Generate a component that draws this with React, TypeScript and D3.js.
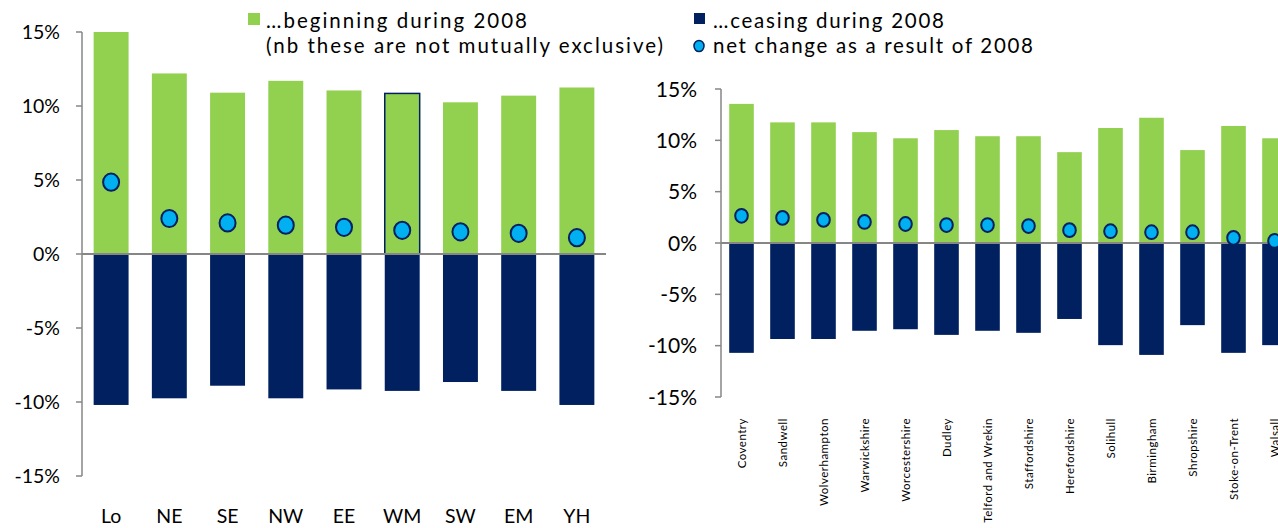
import * as d3 from 'd3';

// Left panel: regions
const regions = ['Lo', 'NE', 'SE', 'NW', 'EE', 'WM', 'SW', 'EM', 'YH'];
const regionBegin = [15.0, 12.2, 10.9, 11.7, 11.05, 10.85, 10.25, 10.7, 11.25];
const regionCease = [-10.2, -9.75, -8.9, -9.75, -9.15, -9.25, -8.65, -9.25, -10.2];
const regionNet = [4.85, 2.4, 2.1, 1.95, 1.8, 1.6, 1.5, 1.4, 1.1];

// Right panel: West Midlands local authorities
const areas = [
  'Coventry', 'Sandwell', 'Wolverhampton', 'Warwickshire', 'Worcestershire', 'Dudley',
  'Telford and Wrekin', 'Staffordshire', 'Herefordshire', 'Solihull', 'Birmingham',
  'Shropshire', 'Stoke-on-Trent', 'Walsall',
];
const areaBegin = [13.55, 11.75, 11.75, 10.8, 10.2, 11.0, 10.4, 10.4, 8.85, 11.2, 12.2, 9.05, 11.4, 10.2];
const areaCease = [-10.7, -9.35, -9.35, -8.55, -8.4, -8.95, -8.55, -8.75, -7.4, -9.95, -10.9, -8.0, -10.7, -9.95];
const areaNet = [2.65, 2.45, 2.25, 2.05, 1.85, 1.75, 1.75, 1.65, 1.25, 1.15, 1.05, 1.05, 0.5, 0.2];

const yTicks = [-15, -10, -5, 0, 5, 10, 15];

const GREEN = '#92d050';
const NAVY = '#002060';
const CYAN = '#00b0f0';
const AXIS = '#868686';
const FONT = 'Lato, "Open Sans", sans-serif';

interface PanelProps {
  cats: string[];
  begin: number[];
  cease: number[];
  net: number[];
  x0: number;
  x1: number;
  yTop: number;
  yBottom: number;
  lineEnd: number;
  tickFont: number;
  labelGap: number;
  r: number;
  rotated: boolean;
  highlight?: string;
}

function Panel(p: PanelProps) {
  const x = d3.scaleBand<string>().domain(p.cats).range([p.x0, p.x1]).paddingInner(0.4).paddingOuter(0.2);
  const y = d3.scaleLinear().domain([-15, 15]).range([p.yBottom, p.yTop]);
  const bw = x.bandwidth();
  return (
    <g>
      {p.cats.map((c, i) => (
        <g key={c}>
          <rect x={x(c)} y={y(p.begin[i])} width={bw} height={y(0) - y(p.begin[i])} fill={GREEN}
            stroke={c === p.highlight ? NAVY : 'none'} strokeWidth={1.5} />
          <rect x={x(c)} y={y(0)} width={bw} height={y(p.cease[i]) - y(0)} fill={NAVY} />
        </g>
      ))}
      <line x1={p.x0} x2={p.lineEnd} y1={y(0)} y2={y(0)} stroke={AXIS} strokeWidth={2} />
      <line x1={p.x0} x2={p.x0} y1={y(15)} y2={y(-15)} stroke={AXIS} strokeWidth={1.5} />
      {yTicks.map(t => (
        <g key={t}>
          <line x1={p.x0 - 6} x2={p.x0} y1={y(t)} y2={y(t)} stroke={AXIS} strokeWidth={1.5} />
          <text x={p.x0 - p.labelGap} y={y(t)} dy="0.36em" textAnchor="end" fontSize={p.tickFont} fill="#000">
            {`${t}%`}
          </text>
        </g>
      ))}
      {p.cats.map((c, i) => (
        <ellipse key={c} cx={(x(c) as number) + bw / 2} cy={y(p.net[i])} rx={p.r} ry={p.r + 0.6}
          fill={CYAN} stroke={NAVY} strokeWidth={2} />
      ))}
      {p.cats.map(c => {
        const cx = (x(c) as number) + bw / 2;
        return p.rotated ? (
          <text key={c} transform={`translate(${cx},${418}) rotate(-90)`} textAnchor="end" dy="0.35em"
            fontSize={11.5} letterSpacing={0.5} fill="#000">{c}</text>
        ) : (
          <text key={c} x={cx} y={523} textAnchor="middle" fontSize={19.5} fill="#000">{c}</text>
        );
      })}
    </g>
  );
}

export default function App() {
  return (
    <svg width={1278} height={528} style={{ position: 'absolute', left: 0, top: 0, background: '#fff' }}
      fontFamily={FONT}>
      <Panel cats={regions} begin={regionBegin} cease={regionCease} net={regionNet}
        x0={82} x1={606} yTop={32} yBottom={476} lineEnd={606} tickFont={19.5} labelGap={22}
        r={8} rotated={false} highlight="WM" />
      <Panel cats={areas} begin={areaBegin} cease={areaCease} net={areaNet}
        x0={721} x1={1295} yTop={89} yBottom={397} lineEnd={1278} tickFont={21} labelGap={24}
        r={6.3} rotated={true} />
      {/* legend */}
      <g fontSize={20.5} fill="#000">
        <rect x={248} y={13} width={12} height={12} fill={GREEN} />
        <text x={266} y={28} textLength={261} lengthAdjust="spacing">…beginning during 2008</text>
        <text x={266} y={53} textLength={397} lengthAdjust="spacing">(nb these are not mutually  exclusive)</text>
        <rect x={694} y={13} width={11} height={11} fill={NAVY} />
        <text x={713} y={28} textLength={231} lengthAdjust="spacing">…ceasing during 2008</text>
        <ellipse cx={699} cy={46} rx={5} ry={5.5} fill={CYAN} stroke={NAVY} strokeWidth={1.5} />
        <text x={713} y={53} textLength={320} lengthAdjust="spacing">net change as a result of 2008</text>
      </g>
    </svg>
  );
}
